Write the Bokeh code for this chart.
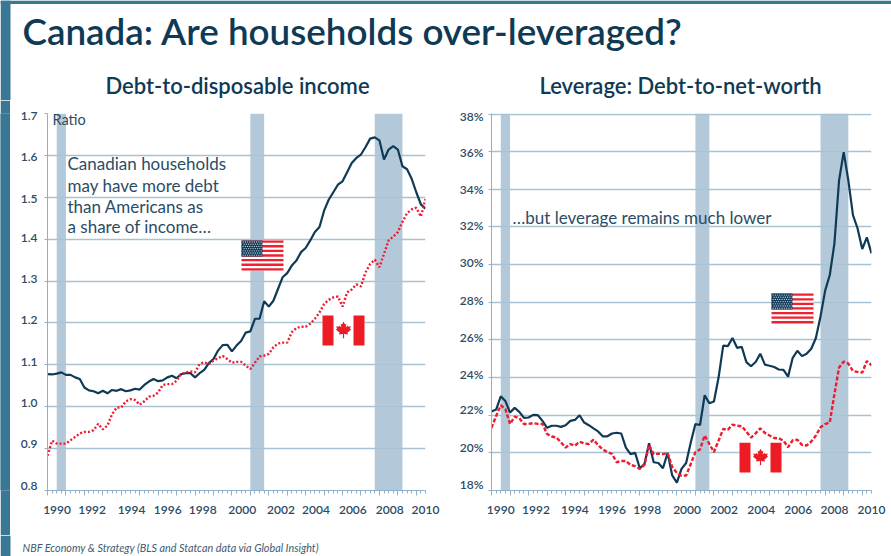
from bokeh.plotting import figure
from bokeh.layouts import column, row
from bokeh.models import (CustomLabelingPolicy, FixedTicker, Label, LinearAxis, Range1d)
from bokeh.embed import file_html
from bokeh.resources import INLINE

quarters = [1990 + i * 0.25 for i in range(83)]
years = list(range(1990, 2011))

debt_income_us = [
    1.078, 1.077, 1.079, 1.082, 1.076, 1.076, 1.070, 1.066,
    1.046, 1.039, 1.037, 1.032, 1.038, 1.032, 1.040, 1.038,
    1.042, 1.037, 1.039, 1.043, 1.041, 1.052, 1.060, 1.066,
    1.061, 1.063, 1.070, 1.074, 1.068, 1.078, 1.080, 1.080,
    1.070, 1.080, 1.088, 1.104, 1.114, 1.134, 1.147, 1.148,
    1.132, 1.146, 1.157, 1.177, 1.180, 1.210, 1.210, 1.252,
    1.239, 1.253, 1.281, 1.309, 1.319, 1.337, 1.349, 1.369,
    1.379, 1.397, 1.417, 1.429, 1.468, 1.494, 1.512, 1.530,
    1.538, 1.560, 1.582, 1.594, 1.602, 1.620, 1.640, 1.643,
    1.636, 1.590, 1.614, 1.622, 1.614, 1.574, 1.567, 1.544,
    1.512, 1.483, 1.473]
debt_income_ca = [
    0.883, 0.919, 0.912, 0.912, 0.912, 0.920, 0.928, 0.936,
    0.940, 0.940, 0.944, 0.959, 0.946, 0.955, 0.982, 0.998,
    0.998, 1.013, 1.018, 1.016, 1.005, 1.013, 1.024, 1.026,
    1.034, 1.052, 1.054, 1.054, 1.062, 1.078, 1.082, 1.084,
    1.082, 1.102, 1.106, 1.102, 1.110, 1.116, 1.121, 1.114,
    1.105, 1.107, 1.107, 1.098, 1.090, 1.105, 1.120, 1.122,
    1.126, 1.142, 1.151, 1.153, 1.153, 1.178, 1.188, 1.191,
    1.191, 1.198, 1.210, 1.225, 1.245, 1.255, 1.261, 1.263,
    1.239, 1.273, 1.280, 1.292, 1.287, 1.321, 1.341, 1.351,
    1.333, 1.365, 1.397, 1.406, 1.417, 1.441, 1.462, 1.471,
    1.475, 1.454, 1.496]
leverage_us = [
    22.20, 22.30, 23.00, 22.75, 22.14, 22.39, 22.18, 21.86,
    21.88, 22.02, 22.00, 21.70, 21.33, 21.44, 21.44, 21.38,
    21.47, 21.70, 21.75, 22.00, 21.61, 21.47, 21.30, 21.14,
    20.88, 20.88, 21.03, 21.07, 21.03, 20.28, 19.93, 20.00,
    19.18, 19.40, 20.51, 19.50, 19.46, 19.18, 20.00, 18.80,
    18.42, 19.15, 19.46, 20.55, 21.53, 21.48, 23.06, 22.64,
    22.73, 24.00, 25.70, 25.67, 26.10, 25.58, 25.63, 24.82,
    24.60, 24.83, 25.27, 24.69, 24.63, 24.56, 24.43, 24.41,
    24.05, 25.05, 25.42, 25.14, 25.27, 25.53, 26.10, 27.25,
    28.62, 29.45, 31.13, 34.48, 35.98, 34.48, 32.63, 31.92,
    30.83, 31.45, 30.60]
leverage_ca = [
    21.33, 21.96, 22.53, 22.32, 21.53, 21.93, 21.84, 21.53,
    21.54, 21.58, 21.54, 21.54, 21.00, 20.87, 20.82, 20.56,
    20.28, 20.47, 20.38, 20.59, 20.50, 20.47, 20.70, 20.42,
    20.18, 20.04, 19.95, 19.50, 19.57, 19.57, 19.36, 19.29,
    19.15, 19.36, 20.42, 19.93, 19.96, 19.93, 20.00, 19.24,
    18.94, 18.78, 18.80, 19.41, 20.04, 20.18, 20.92, 20.48,
    20.04, 20.65, 21.27, 21.23, 21.50, 21.44, 21.41, 21.13,
    20.81, 21.04, 21.30, 21.06, 20.92, 20.79, 20.77, 20.65,
    20.30, 20.67, 20.70, 20.42, 20.39, 20.60, 20.92, 21.36,
    21.53, 21.62, 23.12, 24.53, 24.85, 24.74, 24.35, 24.30,
    24.26, 24.88, 24.65]

recession_start = [1990.5, 2001.0, 2007.75]
recession_end = [1991.0, 2001.75, 2009.25]
year_labels = ["1990", "1992", "1994", "1996", "1998", "2000", "2002", "2004", "2006", "2008", "2010"]
left_label_x = [1990.52, 1992.42, 1994.56, 1996.52, 1998.42, 2000.56, 2002.66, 2004.56, 2006.56, 2008.56, 2010.5]
right_label_x = [1990.5, 1992.4, 1994.5, 1996.5, 1998.4, 2000.55, 2002.55, 2004.55, 2006.55, 2008.5, 2010.5]

ratio_ticks = [0.8, 0.9, 1.0, 1.1, 1.2, 1.3, 1.4, 1.5, 1.6, 1.7]
ratio_labels = ["0.8", "0.9", "1.0", "1.1", "1.2", "1.3", "1.4", "1.5", "1.6", "1.7"]
ratio_label_y = [0.81, 0.91, 1.008, 1.106, 1.206, 1.304, 1.402, 1.497, 1.595, 1.693]
percent_ticks = [18, 20, 22, 24, 26, 28, 30, 32, 34, 36, 38]
percent_labels = ["18%", "20%", "22%", "24%", "26%", "28%", "30%", "32%", "34%", "36%", "38%"]
percent_label_y = [18.32, 20.27, 22.28, 24.18, 26.14, 28.09, 30.1, 32.06, 34.01, 35.97, 37.87]

INK = "#0f3a56"
TXT = "#2c4c65"
RED = "#ee1c2e"
EDGE = "#3a7795"
GRID = "#a9c2d3"
AXIS = "#8fb0c8"
BAND = "#a9c2d4"
FONT = "Lato"
HEAVY = "Lato Semibold"
HEAD_BOTTOM = 100
CHART_BOTTOM = 535

LEAF = [(0, 1), (0.18, 0.68), (0.34, 0.78), (0.26, 0.32), (0.5, 0.56), (0.56, 0.42), (0.86, 0.48),
        (0.76, 0.2), (0.9, 0.12), (0.46, -0.24), (0.54, -0.44), (0.06, -0.38), (0.08, -0.85)]
LEAF = LEAF + [(-a, b) for a, b in reversed(LEAF)]


def chart(width, top, fx0, fx1, fbottom, ymin, ymax, ticks, labels, label_y, label_x, fig_left, y_standoff):
    """fx0, fx1, top, fbottom are page pixels of the plot frame."""
    p = figure(width=width, height=CHART_BOTTOM - HEAD_BOTTOM, output_backend="svg", toolbar_location=None,
               x_range=Range1d(1990, 2010.5), y_range=Range1d(ymin, ymax),
               min_border_left=fx0 - fig_left, min_border_right=fig_left + width - fx1,
               min_border_top=top - HEAD_BOTTOM, min_border_bottom=CHART_BOTTOM - fbottom,
               outline_line_color=None, background_fill_color="white")

    p.xgrid.visible = False
    p.ygrid.ticker = FixedTicker(ticks=ticks)
    p.ygrid.grid_line_color = GRID
    p.ygrid.grid_line_width = 1.3

    ax = p.xaxis[0]
    ax.ticker = FixedTicker(ticks=years, minor_ticks=quarters)
    ax.major_tick_in = 0
    ax.major_tick_out = 5
    ax.minor_tick_in = 0
    ax.minor_tick_out = 3
    ax.major_label_text_font_size = "1px"
    ax.major_label_standoff = 0
    ax.major_label_policy = CustomLabelingPolicy(
        code="for (const i of Array.from(indices)) indices.unset(i); return indices;")
    ax.axis_line_color = AXIS
    ax.major_tick_line_color = AXIS
    ax.minor_tick_line_color = AXIS

    p.add_layout(LinearAxis(ticker=FixedTicker(ticks=label_x),
                            major_label_overrides=dict(zip(label_x, year_labels)),
                            axis_line_color=None, major_tick_line_color=None, minor_tick_line_color=None,
                            major_tick_out=0, major_tick_in=0,
                            major_label_standoff=6, major_label_text_font=HEAVY,
                            major_label_text_font_size="12px", major_label_text_color=TXT), "below")

    ay = p.yaxis[0]
    ay.ticker = FixedTicker(ticks=label_y, minor_ticks=ticks)
    ay.major_label_overrides = dict(zip(label_y, labels))
    ay.major_tick_line_color = None
    ay.major_tick_in = 0
    ay.major_tick_out = 3
    ay.minor_tick_in = 0
    ay.minor_tick_out = 3
    ay.minor_tick_line_color = AXIS
    ay.axis_line_color = AXIS
    ay.major_label_text_font = HEAVY
    ay.major_label_text_font_size = "12px"
    ay.major_label_text_color = TXT
    ay.major_label_standoff = y_standoff

    p.quad(left=recession_start, right=recession_end, bottom=ymin, top=ymax,
           fill_color=BAND, fill_alpha=0.88, line_color=None)

    p._xd = lambda px: 1990 + (px - fx0) * 20.5 / (fx1 - fx0)
    p._yd = lambda py: ymin + (fbottom - py) * (ymax - ymin) / (fbottom - top)
    return p


def note(p, px, py, text, size="17px", style="normal", color=TXT):
    p.add_layout(Label(x=p._xd(px), y=p._yd(py), text=text, text_font=FONT, text_font_size=size,
                       text_font_style=style, text_color=color, text_baseline="middle"))


def px_box(p, x0, x1, y0, y1, color):
    p.quad(left=p._xd(x0), right=p._xd(x1), top=p._yd(y0), bottom=p._yd(y1), fill_color=color, line_color=None)


def us_flag(p, x0, y0):
    w, h = 42, 30
    px_box(p, x0, x0 + w, y0, y0 + h, "white")
    for i in range(0, 13, 2):
        px_box(p, x0, x0 + w, y0 + i * h / 13, y0 + (i + 1) * h / 13, "#f0202e")
    px_box(p, x0, x0 + 21, y0, y0 + 16, "#123a58")
    xs, ys = [], []
    for r in range(7):
        for c in range(9):
            xs.append(p._xd(x0 + 1.6 + c * 2.25 + (r % 2)))
            ys.append(p._yd(y0 + 1.5 + r * 2.2))
    p.scatter(xs, ys, size=1.3, color="#c5d3de", line_color=None)


def ca_flag(p, x0, y0):
    w, h = 42, 30
    px_box(p, x0, x0 + w, y0, y0 + h, "white")
    px_box(p, x0, x0 + 11, y0, y0 + h, "#ed1c24")
    px_box(p, x0 + 31, x0 + w, y0, y0 + h, "#ed1c24")
    cx, cy = x0 + 21, y0 + 15
    p.patch([p._xd(cx + a * 8.5) for a, b in LEAF], [p._yd(cy - b * 9) for a, b in LEAF],
            fill_color="#ed1c24", line_color=None)


def strip(width, height, y0, y1):
    """A figure whose data coordinates are page pixels."""
    f = figure(width=width, height=height, output_backend="svg", toolbar_location=None,
               x_range=Range1d(0, width), y_range=Range1d(y1, y0),
               min_border=0, outline_line_color=None)
    f.xaxis.visible = False
    f.yaxis.visible = False
    f.grid.visible = False
    return f


left = chart(435, 113, 47, 425, 490, 0.8, 1.7, ratio_ticks, ratio_labels, ratio_label_y, left_label_x, 10, 7)
left.line(quarters, debt_income_us, line_color=INK, line_width=2.2)
left.line(quarters, debt_income_ca, line_color=RED, line_width=2.4, line_dash="2 2")
us_flag(left, 241, 240)
ca_flag(left, 322, 315)
note(left, 52, 118.5, "Ratio", "14.5px")
for py, line in zip([163, 185, 206, 226],
                    ["Canadian households", "may have more debt", "than Americans as", "a share of income…"]):
    note(left, 67, py, line)

right = chart(446, 113, 491, 871, 492, 18, 38.03, percent_ticks, percent_labels, percent_label_y, right_label_x, 445, 5)
right.line(quarters, leverage_us, line_color=INK, line_width=2.2)
right.line(quarters, leverage_ca, line_color=RED, line_width=2.4, line_dash="4 2")
us_flag(right, 771, 294)
ca_flag(right, 739, 444)
note(right, 512, 218, "…but leverage remains much lower")

head = strip(891, HEAD_BOTTOM, 0, HEAD_BOTTOM)
head.quad(left=[0], right=[891], top=[0], bottom=[3.4], fill_color=EDGE, line_color=None)
head.quad(left=[0], right=[10], top=[0], bottom=[HEAD_BOTTOM], fill_color=EDGE, line_color=None)
head.add_layout(Label(x=22, y=30, text="Canada: Are households over-leveraged?", text_font=HEAVY,
                      text_font_size="36.8px", text_color=INK, text_baseline="middle"))
for cx, title in zip([237, 680], ["Debt-to-disposable income", "Leverage: Debt-to-net-worth"]):
    head.add_layout(Label(x=cx, y=85, text=title, text_font=HEAVY, text_font_size="22px",
                          text_color=INK, text_baseline="middle", text_align="center"))

edge = strip(10, CHART_BOTTOM - HEAD_BOTTOM, HEAD_BOTTOM, CHART_BOTTOM)
edge.border_fill_color = EDGE
edge.background_fill_color = EDGE
edge.quad(left=[0], right=[10], top=[HEAD_BOTTOM], bottom=[CHART_BOTTOM], fill_color=EDGE, line_color=None)

foot = strip(891, 556 - CHART_BOTTOM, CHART_BOTTOM, 556)
foot.quad(left=[0], right=[10], top=[CHART_BOTTOM], bottom=[556], fill_color=EDGE, line_color=None)
foot.add_layout(Label(x=22, y=547, text="NBF Economy & Strategy (BLS and Statcan data via Global Insight)",
                      text_font=FONT, text_font_size="10.8px", text_font_style="italic",
                      text_color="#3f5a70", text_baseline="middle"))

page = column(head, row(edge, left, right, spacing=0), foot, spacing=0)
open("out.html", "w").write(file_html(page, INLINE))
